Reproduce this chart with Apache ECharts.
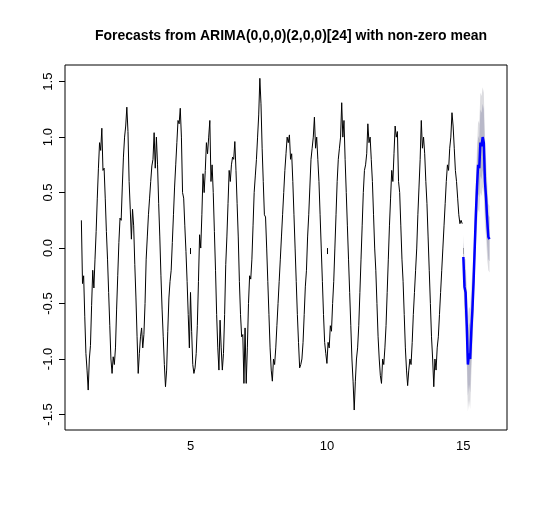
<!DOCTYPE html>
<html><head><meta charset="utf-8">
<script src="https://cdn.jsdelivr.net/npm/echarts@6/dist/echarts.min.js"></script>
<style>html,body{margin:0;padding:0;background:#fff}#c{width:540px;height:512px}</style>
</head><body><div id="c"></div>
<script>
const title = "Forecasts from ARIMA(0,0,0)(2,0,0)[24] with non-zero mean";
const startTime = 1, freq = 24;
const observed = [
0.25,-0.32,-0.25,-0.62,-0.95,-1.1,-1.28,-1.0,-0.88,-0.52,-0.2,-0.36,-0.1,0.15,0.45,0.72,0.95,0.88,1.08,0.70,0.72,0.45,0.15,-0.1,
-0.4,-0.7,-1.0,-1.13,-0.98,-1.05,-0.9,-0.55,-0.25,0.05,0.27,0.25,0.55,0.82,1.0,1.1,1.27,1.05,0.6,0.35,0.08,0.35,0.2,-0.15,
-0.45,-0.8,-1.13,-0.95,-0.8,-0.72,-0.9,-0.78,-0.5,-0.1,0.1,0.3,0.45,0.6,0.74,0.8,1.04,0.72,1.0,0.75,0.4,0.1,-0.25,-0.55,
-0.8,-1.05,-1.25,-1.1,-0.75,-0.45,-0.3,-0.2,0.05,0.3,0.55,0.75,0.95,1.15,1.12,1.26,1.0,0.5,0.45,0.2,-0.03,-0.3,-0.6,-0.9,
-0.4,-0.75,-1.05,-1.13,-1.08,-0.95,-0.7,-0.3,0.12,0.0,0.3,0.67,0.5,0.7,0.95,0.85,1.0,1.15,0.6,0.75,0.5,0.15,-0.2,-0.6,
-0.9,-1.1,-0.65,-0.9,-1.1,-0.95,-0.6,-0.15,0.1,0.4,0.7,0.6,0.75,0.82,0.8,0.96,0.7,0.4,0.1,-0.3,-0.6,-0.8,-0.78,-1.22,
-0.72,-1.22,-0.9,-0.5,-0.25,-0.28,-0.1,0.2,0.5,0.65,0.8,1.0,1.2,1.53,1.3,0.9,0.6,0.3,0.28,0.0,-0.3,-0.6,-0.9,-1.1,
-1.2,-1.0,-1.05,-0.9,-0.7,-0.5,-0.3,-0.1,0.1,0.3,0.5,0.7,0.85,1.0,0.95,1.02,0.8,0.85,0.6,0.3,0.0,-0.3,-0.6,-0.85,
-1.08,-1.05,-1.0,-0.85,-0.6,-0.35,-0.2,0.1,0.3,0.55,0.8,0.9,1.0,1.18,0.9,1.0,0.8,0.6,0.3,0.0,-0.3,-0.6,-0.85,-0.95,
-1.04,-0.85,-0.9,-0.7,-0.75,-0.5,-0.3,0.0,0.3,0.6,0.8,0.9,1.0,1.31,1.0,1.15,0.8,0.5,0.2,-0.1,-0.4,-0.7,-1.0,-1.2,
-1.46,-1.2,-1.0,-0.9,-0.7,-0.4,-0.1,0.2,0.5,0.7,0.75,0.85,1.12,0.95,1.0,0.8,0.6,0.3,0.0,-0.2,-0.5,-0.8,-1.0,-1.15,
-1.22,-1.0,-1.05,-0.9,-0.7,-0.4,-0.1,0.2,0.45,0.7,0.6,0.85,1.1,1.0,1.05,0.6,0.5,0.2,-0.1,-0.3,-0.6,-0.9,-1.1,-1.24,
-1.1,-1.0,-1.05,-0.85,-0.6,-0.4,-0.2,0.0,0.3,0.55,0.8,1.15,0.9,1.0,0.85,0.6,0.4,0.1,-0.2,-0.5,-0.8,-1.0,-1.25,-1.0,
-1.1,-0.9,-0.8,-0.6,-0.4,-0.2,0.0,0.2,0.4,0.6,0.75,0.7,0.9,1.0,1.22,1.1,0.9,0.7,0.6,0.45,0.3,0.22,0.25,0.22
];
const fcStart = 15;
const fcMean = [-0.08,-0.35,-0.4,-0.7,-1.05,-0.95,-1.0,-0.75,-0.55,-0.3,0.0,0.3,0.55,0.75,0.72,0.95,0.92,1.0,0.95,0.6,0.45,0.25,0.1,0.08];
const half95 = [0.2,0.25,0.3,0.35,0.42,0.42,0.45,0.4,0.35,0.3,0.3,0.3,0.35,0.4,0.4,0.45,0.45,0.45,0.45,0.4,0.35,0.35,0.3,0.3];
const half80 = [0.13,0.16,0.2,0.23,0.28,0.28,0.3,0.26,0.23,0.2,0.2,0.2,0.23,0.26,0.26,0.3,0.3,0.3,0.3,0.26,0.23,0.23,0.2,0.2];
const xTicks = [5,10,15];
const yTicks = [-1.5,-1.0,-0.5,0.0,0.5,1.0,1.5];

const obsData = observed.map((v,i)=>[startTime+i/freq, v]);
const fx = i => fcStart + i/freq;
const meanData = fcMean.map((v,i)=>[fx(i), v]);
const band95 = fcMean.map((v,i)=>[fx(i), v-half95[i], v+half95[i]]);
const band80 = fcMean.map((v,i)=>[fx(i), v-half80[i], v+half80[i]]);

function bandSeries(data, color){
  return {type:'custom', data:[0], silent:true, z:1,
    renderItem:(params, api)=>{
      const up = data.map(d=>api.coord([d[0], d[2]]));
      const lo = data.map(d=>api.coord([d[0], d[1]])).reverse();
      return {type:'polygon', shape:{points:up.concat(lo)}, style:{fill:color}};
    }};
}

const chart = echarts.init(document.getElementById('c'), null, {renderer:'canvas'});
chart.setOption({
  animation:false,
  title:{text:title, left:286, top:24, textAlign:'center',
    textStyle:{fontFamily:'Liberation Sans', fontSize:14, fontWeight:'bold', color:'#000'}},
  grid:{left:65, top:65, right:33, bottom:82, show:true, borderColor:'#000', borderWidth:1, backgroundColor:'#fff'},
  xAxis:{type:'value', min:0.4, max:16.6, splitLine:{show:false}, axisLine:{show:false},
    axisTick:{show:true, length:6, customValues:xTicks, lineStyle:{color:'#000'}},
    axisLabel:{customValues:xTicks, margin:10, color:'#000', fontFamily:'Liberation Sans', fontSize:13}},
  yAxis:{type:'value', min:-1.64, max:1.65, splitLine:{show:false}, axisLine:{show:false},
    axisTick:{show:true, length:6, customValues:yTicks, lineStyle:{color:'#000'}},
    axisLabel:{customValues:yTicks, rotate:90, margin:10, color:'#000', fontFamily:'Liberation Sans', fontSize:13,
      formatter:v=>v.toFixed(1)}},
  series:[
    bandSeries(band95, '#dcdce0'),
    bandSeries(band80, '#b8b8c8'),
    {type:'line', data:obsData, symbol:'none', lineStyle:{color:'#000', width:1}, z:3},
    {type:'line', data:meanData, symbol:'none', lineStyle:{color:'#0000ff', width:2.5}, z:4}
  ]
});
</script></body></html>
